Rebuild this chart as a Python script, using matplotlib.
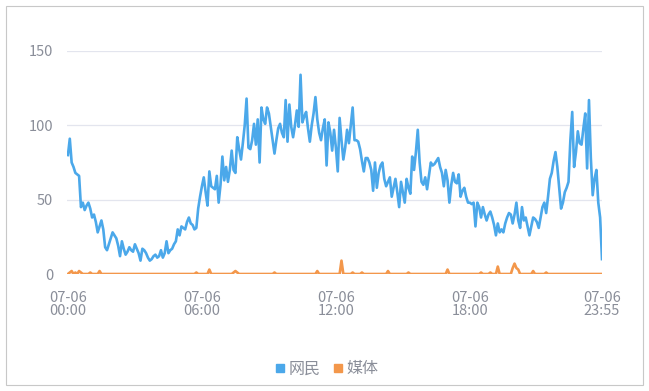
import numpy as np
import matplotlib.pyplot as plt
from matplotlib.patches import Rectangle

plt.rcParams['font.family'] = ['Noto Sans CJK SC', 'DejaVu Sans']

# 5-minute counts for 07-06, 00:00 .. 23:55 (12 values per hour)
netizen = [
    80, 91, 75, 72, 68, 67, 66, 45, 48, 43, 46, 48,      # 00
    44, 38, 40, 35, 28, 32, 36, 30, 18, 16, 20, 24,      # 01
    28, 26, 24, 19, 12, 22, 17, 13, 15, 18, 16, 15,      # 02
    20, 17, 14, 9, 17, 16, 14, 11, 9, 10, 12, 13,        # 03
    11, 12, 16, 11, 14, 22, 14, 16, 17, 20, 22, 30,      # 04
    26, 32, 31, 30, 35, 38, 34, 33, 30, 31, 44, 52,      # 05
    59, 65, 55, 46, 69, 59, 58, 57, 66, 48, 60, 79,      # 06
    63, 72, 62, 70, 83, 70, 68, 92, 84, 77, 88, 100,     # 07
    118, 85, 84, 90, 101, 87, 104, 75, 112, 104, 101, 112,  # 08
    108, 99, 90, 81, 90, 98, 101, 95, 92, 117, 89, 114,  # 09
    99, 92, 100, 110, 99, 134, 102, 106, 109, 98, 89, 100,  # 10
    108, 119, 104, 95, 90, 98, 104, 73, 102, 95, 83, 97,  # 11
    85, 69, 105, 90, 77, 85, 97, 88, 100, 112, 90, 90,   # 12
    89, 84, 76, 69, 78, 78, 75, 70, 56, 75, 58, 68,      # 13
    73, 75, 64, 59, 62, 65, 52, 58, 64, 55, 45, 62,      # 14
    55, 48, 64, 58, 54, 79, 70, 82, 97, 75, 62, 60,      # 15
    65, 57, 66, 75, 73, 74, 76, 78, 72, 68, 59, 70,      # 16
    63, 48, 60, 68, 62, 61, 67, 52, 56, 58, 52, 48,      # 17
    48, 47, 48, 32, 48, 45, 38, 45, 40, 36, 40, 42,      # 18
    38, 33, 26, 34, 28, 30, 28, 34, 38, 41, 40, 34,      # 19
    40, 48, 36, 31, 45, 36, 38, 32, 26, 32, 38, 37,      # 20
    35, 31, 38, 45, 48, 41, 52, 64, 68, 76, 82, 72,      # 21
    58, 44, 48, 55, 58, 62, 90, 109, 72, 82, 96, 88,     # 22
    87, 98, 108, 71, 117, 78, 53, 64, 70, 48, 38, 10,    # 23
]
media = [
    0, 1, 2, 0, 1, 0, 2, 1, 0, 0, 0, 0,
    1, 0, 0, 0, 0, 2, 0, 0, 0, 0, 0, 0,
    0, 0, 0, 0, 0, 0, 0, 0, 0, 0, 0, 0,
    0, 0, 0, 0, 0, 0, 0, 0, 0, 0, 0, 0,
    0, 0, 0, 0, 0, 0, 0, 0, 0, 0, 0, 0,
    0, 0, 0, 0, 0, 0, 0, 0, 0, 1, 0, 0,
    0, 0, 0, 0, 3, 0, 0, 0, 0, 0, 0, 0,
    0, 0, 0, 0, 0, 1, 2, 1, 0, 0, 0, 0,
    0, 0, 0, 0, 0, 0, 0, 0, 0, 0, 0, 0,
    0, 0, 0, 1, 0, 0, 0, 0, 0, 0, 0, 0,
    0, 0, 0, 0, 0, 0, 0, 0, 0, 0, 0, 0,
    0, 0, 2, 0, 0, 0, 0, 0, 0, 0, 0, 0,
    0, 0, 0, 9, 0, 0, 0, 0, 0, 1, 0, 0,
    0, 0, 1, 0, 0, 0, 0, 0, 0, 0, 0, 0,
    0, 0, 0, 0, 2, 0, 0, 0, 0, 0, 0, 0,
    0, 0, 0, 1, 0, 0, 0, 0, 0, 0, 0, 0,
    0, 0, 0, 0, 0, 0, 0, 0, 0, 0, 0, 0,
    3, 0, 0, 0, 0, 0, 0, 0, 0, 0, 0, 0,
    0, 0, 0, 0, 0, 0, 1, 0, 0, 0, 0, 1,
    0, 0, 0, 5, 0, 0, 0, 0, 0, 0, 0, 4,
    7, 4, 3, 0, 0, 0, 0, 0, 0, 0, 2, 0,
    0, 0, 0, 0, 0, 1, 0, 0, 0, 0, 0, 0,
    0, 0, 0, 0, 0, 0, 0, 0, 0, 0, 0, 0,
    0, 0, 0, 0, 0, 0, 0, 0, 0, 0, 0, 0,
]
tick_idx = [0, 72, 144, 216, 287]
tick_labels = ['07-06\n00:00', '07-06\n06:00', '07-06\n12:00', '07-06\n18:00', '07-06\n23:55']
series_names = ['网民', '媒体']
colors = ['#4ba8ea', '#f3974b']

x = np.arange(len(netizen))
grey = '#8a8e99'

fig = plt.figure(figsize=(6.49, 3.91), dpi=100)
fig.patches.append(Rectangle((6/649, 6/391), 637/649, 379/391, transform=fig.transFigure,
                             fill=False, edgecolor='#c8c8c8', linewidth=0.8))
ax = fig.add_axes([67/649, 1 - 274/391, 535/649, 223/391])

ax.plot(x, netizen, color=colors[0], lw=1.9, label=series_names[0], zorder=3)
ax.plot(x, media, color=colors[1], lw=1.9, label=series_names[1], zorder=4)

ax.set_xlim(-0.5, 287)
ax.set_ylim(0, 150)
ax.set_yticks([0, 50, 100, 150])
ax.set_xticks(tick_idx)
ax.set_xticklabels(tick_labels, linespacing=0.95)
ax.grid(axis='y', color='#e3e5ee', lw=0.9)
ax.set_axisbelow(True)
for s in ax.spines.values():
    s.set_visible(False)
ax.tick_params(axis='both', length=0, colors=grey, labelsize=10.5)
ax.tick_params(axis='y', pad=10)
ax.tick_params(axis='x', pad=12)

handles = [plt.Line2D([], [], marker='s', ls='', color=c, markersize=5.5) for c in colors]
fig.legend(handles, series_names, loc='center', bbox_to_anchor=(326/649, 1 - 369/391),
           ncol=2, frameon=False, fontsize=11.5, labelcolor=grey, handletextpad=0.1,
           columnspacing=0.7, handlelength=0.8)

fig.savefig('out.png', dpi=100)
